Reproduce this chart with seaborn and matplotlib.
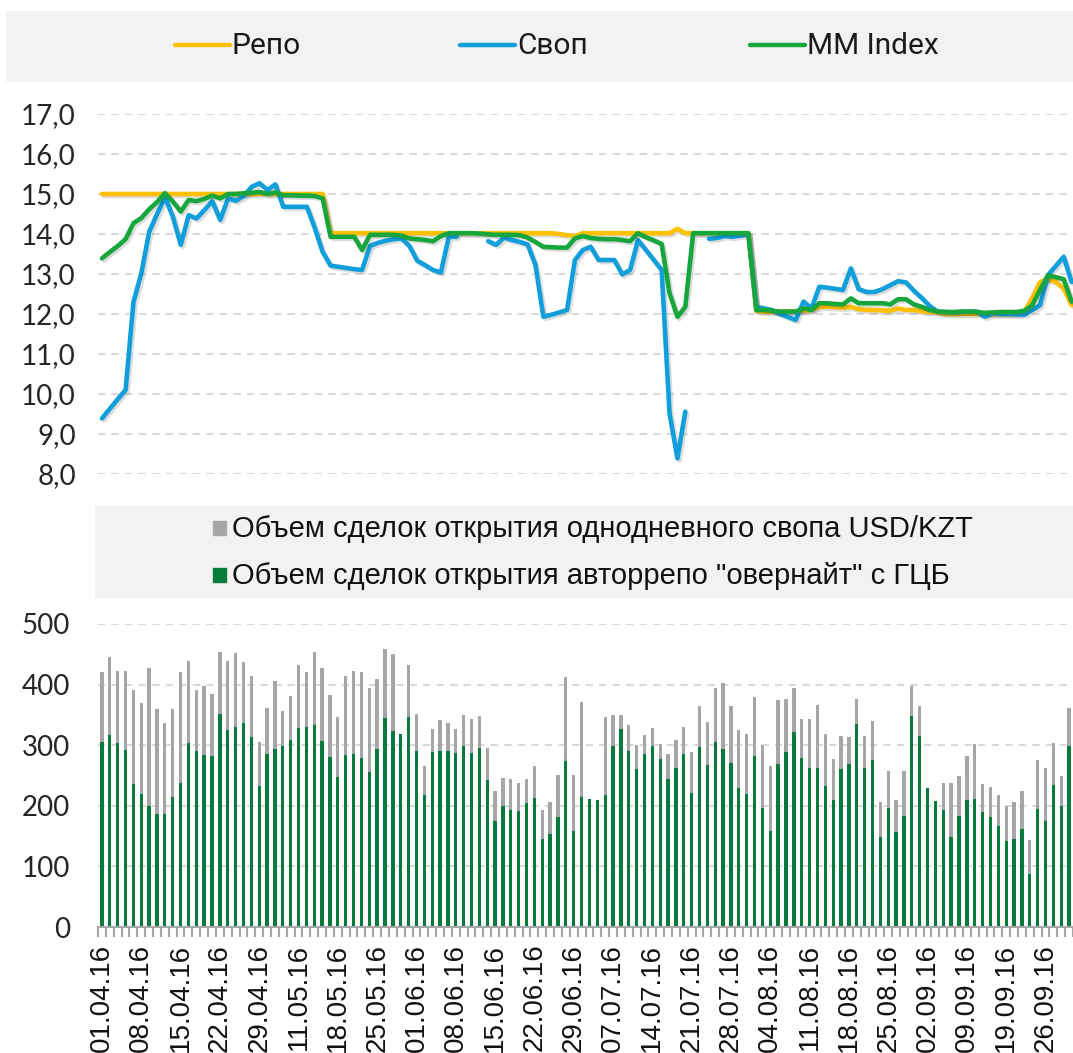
import numpy as np
import pandas as pd
import seaborn as sns
import matplotlib.pyplot as plt
from matplotlib import patheffects as pe
from matplotlib.patches import Rectangle
from matplotlib.ticker import FuncFormatter

sns.set_theme(style="white")
plt.rcParams['font.family'] = ['Liberation Sans', 'DejaVu Sans']

# x tick labels, one for every 5th trading day
date_labels = ["01.04.16", "08.04.16", "15.04.16", "22.04.16", "29.04.16",
               "11.05.16", "18.05.16", "25.05.16", "01.06.16", "08.06.16",
               "15.06.16", "22.06.16", "29.06.16", "07.07.16", "14.07.16",
               "21.07.16", "28.07.16", "04.08.16", "11.08.16", "18.08.16",
               "25.08.16", "02.09.16", "09.09.16", "19.09.16", "26.09.16"]

series_names = ["Репо", "Своп", "MM Index"]
volume_names = ["Объем сделок открытия однодневного свопа USD/KZT",
                "Объем сделок открытия авторрепо \"овернайт\" с ГЦБ"]

# rates, %
repo_rate = [15.0, 15.0, 15.0, 15.0, 15.0, 15.0, 15.0, 15.0, 15.0, 15.0,
             15.0, 15.0, 15.0, 15.0, 15.0, 15.0, 15.0, 15.0, 15.0, 15.0,
             15.0, 15.0, 15.0, 15.0, 15.0, 15.0, 15.0, 15.0, 15.0, 14.02,
             14.02, 14.02, 14.02, 14.02, 14.02, 14.02, 14.02, 14.02, 14.02, 14.02,
             14.02, 14.02, 14.02, 14.02, 14.02, 14.02, 14.02, 14.02, 14.02, 14.02,
             14.02, 14.02, 14.02, 14.02, 14.02, 14.02, 14.02, 14.02, 14.0, 13.97,
             13.95, 14.02, 14.02, 14.02, 14.02, 14.02, 14.02, 14.02, 14.02, 14.02,
             14.02, 14.02, 14.02, 14.13, 14.02, 14.02, 14.02, 14.02, 14.02, 14.02,
             14.02, 14.02, 14.02, 12.08, 12.06, 12.05, 12.05, 12.06, 12.07, 12.08,
             12.1, 12.18, 12.18, 12.17, 12.16, 12.18, 12.12, 12.1, 12.1, 12.09,
             12.08, 12.14, 12.1, 12.1, 12.07, 12.05, 12.04, 12.0, 12.0, 12.0,
             12.0, 12.0, 12.0, 12.0, 12.0, 12.0, 12.0, 12.05, 12.4, 12.8,
             12.87, 12.8, 12.64, 12.22]

swap_rate = [9.39, 9.63, 9.87, 10.1, 12.3, 13.02, 14.06, 14.5, 14.92, 14.43,
             13.73, 14.47, 14.39, 14.6, 14.82, 14.35, 14.89, 14.83, 14.95, 15.18,
             15.27, 15.1, 15.24, 14.68, 14.68, 14.68, 14.68, 14.15, 13.55, 13.21,
             13.18, 13.15, 13.12, 13.1, 13.7, 13.78, 13.83, 13.87, 13.89, 13.7,
             13.33, 13.22, 13.1, 13.04, 13.93, 13.93, np.nan, np.nan, np.nan, 13.82,
             13.73, 13.91, 13.85, 13.8, 13.74, 13.22, 11.93, 11.98, 12.04, 12.1,
             13.35, 13.6, 13.68, 13.35, 13.35, 13.35, 12.99, 13.1, 13.85, 13.6,
             13.35, 13.1, 9.52, 8.39, 9.56, np.nan, np.nan, 13.88, 13.9, 13.95,
             13.93, 13.96, 13.99, 12.18, 12.14, 12.1, 12.0, 11.93, 11.85, 12.31,
             12.14, 12.68, 12.66, 12.63, 12.6, 13.14, 12.62, 12.55, 12.55, 12.62,
             12.72, 12.82, 12.79, 12.58, 12.4, 12.2, 12.06, 12.05, 12.04, 12.05,
             12.06, 12.06, 11.93, 12.02, 12.0, 12.0, 11.99, 11.98, 12.1, 12.22,
             12.97, 13.2, 13.43, 12.8]

mm_index = [13.39, 13.55, 13.7, 13.87, 14.27, 14.4, 14.62, 14.8, 15.02, 14.81,
            14.56, 14.85, 14.82, 14.88, 14.96, 14.89, 15.0, 15.0, 15.02, 15.03,
            15.05, 15.0, 15.04, 14.97, 14.97, 14.96, 14.96, 14.95, 14.89, 13.93,
            13.93, 13.93, 13.93, 13.6, 13.98, 13.98, 13.98, 13.98, 13.96, 13.89,
            13.87, 13.85, 13.82, 13.95, 14.02, 14.02, 14.02, 14.02, 14.01, 13.99,
            13.98, 13.98, 13.98, 13.97, 13.91, 13.8, 13.68, 13.67, 13.66, 13.66,
            13.89, 13.95, 13.9, 13.88, 13.87, 13.87, 13.85, 13.82, 14.02, 13.92,
            13.84, 13.75, 12.52, 11.93, 12.18, 14.02, 14.02, 14.02, 14.02, 14.02,
            14.02, 14.02, 14.02, 12.1, 12.1, 12.08, 12.06, 12.06, 12.06, 12.14,
            12.1, 12.27, 12.27, 12.25, 12.24, 12.39, 12.27, 12.27, 12.27, 12.27,
            12.24, 12.37, 12.37, 12.24, 12.18, 12.1, 12.06, 12.05, 12.05, 12.06,
            12.06, 12.05, 12.03, 12.04, 12.05, 12.05, 12.05, 12.08, 12.22, 12.6,
            12.97, 12.92, 12.87, 12.31]

# volumes, bn KZT
repo_volume = [306, 317, 303, 292, 236, 219, 200, 186, 187, 214,
               237, 303, 290, 284, 282, 352, 325, 330, 337, 314,
               233, 285, 293, 299, 308, 329, 330, 333, 307, 280,
               248, 284, 285, 279, 256, 294, 345, 324, 318, 347,
               291, 217, 289, 291, 291, 287, 299, 287, 296, 242,
               175, 199, 193, 192, 205, 213, 145, 153, 181, 274,
               159, 215, 211, 210, 218, 299, 326, 291, 261, 286,
               299, 277, 245, 263, 285, 221, 297, 268, 306, 293,
               270, 229, 220, 283, 197, 158, 269, 288, 321, 279,
               262, 262, 232, 209, 261, 269, 335, 262, 275, 148,
               196, 157, 183, 348, 315, 230, 208, 193, 148, 183,
               209, 211, 189, 181, 166, 142, 145, 161, 88, 194,
               175, 234, 200, 299]

swap_volume = [115, 129, 120, 130, 155, 150, 228, 173, 149, 146,
               183, 136, 101, 113, 102, 101, 114, 122, 100, 101,
               72, 76, 113, 57, 73, 104, 90, 121, 121, 103,
               98, 131, 137, 141, 139, 115, 114, 127, 0, 86,
               60, 49, 38, 50, 45, 40, 51, 57, 52, 54,
               50, 47, 51, 46, 40, 52, 48, 53, 70, 139,
               92, 157, 0, 0, 128, 51, 24, 43, 39, 31,
               29, 25, 41, 45, 45, 67, 68, 71, 88, 110,
               95, 96, 98, 97, 103, 107, 105, 89, 74, 65,
               82, 105, 86, 69, 54, 45, 41, 54, 65, 58,
               62, 53, 75, 50, 50, 0, 0, 44, 89, 66,
               73, 91, 47, 50, 52, 57, 61, 63, 55, 82,
               87, 69, 49, 63]

days = pd.DataFrame({"day": np.arange(len(repo_rate)), "repo": repo_rate,
                     "swap": swap_rate, "mm": mm_index,
                     "repo_vol": repo_volume, "swap_vol": swap_volume})
days["total_vol"] = days["repo_vol"] + days["swap_vol"]
# split swap line where there is no data so the gaps stay open
days["swap_seg"] = days["swap"].isna().cumsum()
n = len(days)

yellow, blue, green = "#FFC000", "#109FDB", "#17A63B"
bar_green, bar_gray = "#087A3C", "#A6A6A6"
txt = "#262626"
tick_family = ["Lato", "DejaVu Sans"]

W, H = 1073, 1053
fig = plt.figure(figsize=(W / 100, H / 100), dpi=100)


def box(x0, y0, x1, y1):
    return [x0 / W, 1 - y1 / H, (x1 - x0) / W, (y1 - y0) / H]


def clean(ax):
    for s in ax.spines.values():
        s.set_visible(False)
    ax.set_xlabel("")
    ax.set_ylabel("")


# ---- top legend
leg1 = fig.add_axes(box(6, 11, 1073, 82))
leg1.set_facecolor("#F2F2F2")
leg1.set_xlim(6, 1073)
leg1.set_ylim(82, 11)
leg1.set_xticks([])
leg1.set_yticks([])
clean(leg1)
for name, col, x0 in zip(series_names, [yellow, blue, green], [175, 460, 750]):
    leg1.plot([x0, x0 + 55], [45, 45], color=col, lw=3.2, solid_capstyle="round")
    leg1.text(x0 + 57, 46, name, va="center", ha="left", fontsize=21.5,
              color="#1a1a1a", family=["Roboto", "DejaVu Sans"])

# ---- line chart
ax1 = fig.add_axes(box(98, 114, 1073, 474))
shadow = [pe.SimpleLineShadow(offset=(1.5, -1.5), alpha=0.15), pe.Normal()]
sns.lineplot(data=days, x="day", y="repo", color=yellow, lw=3.3, ax=ax1,
             path_effects=shadow)
sns.lineplot(data=days.dropna(subset=["swap"]), x="day", y="swap", units="swap_seg",
             estimator=None, color=blue, lw=3.3, ax=ax1, path_effects=shadow)
sns.lineplot(data=days, x="day", y="mm", color=green, lw=3.3, ax=ax1,
             path_effects=shadow)
ax1.set_xlim(-0.5, 123.18)
ax1.set_ylim(8, 17)
ax1.set_yticks(np.arange(8, 18, 1))
ax1.yaxis.set_major_formatter(FuncFormatter(lambda v, p: f"{v:.1f}".replace(".", ",")))
ax1.set_xticks([])
ax1.yaxis.grid(True, ls=(0, (3.5, 3)), color="#D9D9D9", lw=1.5)
ax1.tick_params(axis="y", length=0, pad=16, labelsize=20, labelcolor=txt)
for lab in ax1.get_yticklabels():
    lab.set_fontfamily(tick_family)
clean(ax1)

# ---- bottom legend
leg2 = fig.add_axes(box(95, 506, 1073, 598))
leg2.set_facecolor("#F2F2F2")
leg2.set_xlim(95, 1073)
leg2.set_ylim(598, 506)
leg2.set_xticks([])
leg2.set_yticks([])
clean(leg2)
for name, col, yc in zip(volume_names, [bar_gray, bar_green], [528, 575]):
    leg2.add_patch(Rectangle((213, yc - 7), 13, 14, color=col))
    leg2.text(232, yc + 1, name, va="center", ha="left", fontsize=21, color="#111111")

# ---- bar chart
ax2 = fig.add_axes(box(98, 624, 1073, 927))
sns.barplot(data=days, x="day", y="total_vol", color=bar_gray, width=0.42,
            saturation=1, errorbar=None, linewidth=0, ax=ax2)
sns.barplot(data=days, x="day", y="repo_vol", color=bar_green, width=0.42,
            saturation=1, errorbar=None, linewidth=0, ax=ax2)
ax2.set_xlim(-0.5, 123.18)
ax2.set_ylim(0, 500)
ax2.set_yticks(np.arange(0, 501, 100))
ax2.yaxis.grid(True, ls=(0, (3.5, 3)), color="#D9D9D9", lw=1.5)
ax2.set_axisbelow(True)
ax2.set_xticks(np.arange(0, n, 5))
ax2.set_xticklabels(date_labels, rotation=90, va="top", ha="center")
ax2.set_xticks(np.arange(-0.5, n, 1), minor=True)
ax2.tick_params(axis="x", which="major", length=0, pad=12, labelsize=20, labelcolor="#111111")
ax2.tick_params(axis="x", which="minor", bottom=True, length=7, width=1.5, color=bar_gray)
ax2.tick_params(axis="y", length=0, pad=20, labelsize=20, labelcolor=txt)
for lab in ax2.get_yticklabels():
    lab.set_fontfamily(tick_family)
clean(ax2)
ax2.spines["bottom"].set_visible(True)
ax2.spines["bottom"].set_color(bar_gray)
ax2.spines["bottom"].set_linewidth(1.5)

fig.savefig("out.png", dpi=100)
